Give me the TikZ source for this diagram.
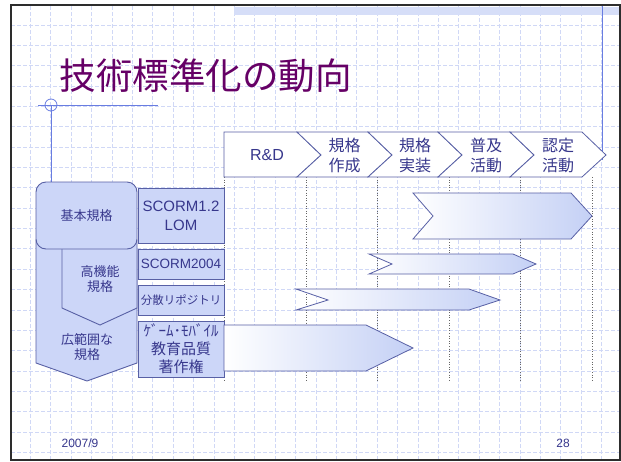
\documentclass[tikz,border=0pt]{standalone}
\usepackage{fontspec}
\setmainfont{Liberation Sans}
\newfontfamily\jp{Noto Sans CJK JP}
\definecolor{gridc}{RGB}{208,216,246}
\definecolor{framec}{RGB}{45,45,45}
\definecolor{titlec}{RGB}{102,0,102}
\definecolor{linec}{RGB}{105,125,225}
\definecolor{boxfill}{RGB}{204,214,248}
\definecolor{boxdraw}{RGB}{88,96,165}
\definecolor{txtc}{RGB}{55,55,140}
\definecolor{arrowend}{RGB}{196,208,245}
\definecolor{bandc}{RGB}{214,222,248}
\tikzset{
  gridline/.style={gridc, line width=0.8pt, dash pattern=on 4pt off 2pt},
  vdot/.style={gray!80!black, line width=0.6pt, dotted},
  hdrshape/.style={draw=boxdraw, fill=white, line width=0.8pt, line join=miter},
  hdrtext/.style={txtc, align=center, inner sep=0pt},
  lshape/.style={draw=boxdraw, fill=boxfill, line width=0.9pt},
  lbox/.style={draw=boxdraw, fill=boxfill, line width=0.9pt, inner sep=0pt, minimum width=86pt, text=txtc, align=center},
  ltext/.style={txtc, align=center, inner sep=0pt},
  garrow/.style={draw=boxdraw, line width=0.8pt, left color=white, right color=arrowend},
}
\begin{document}
\begin{tikzpicture}[x=1pt,y=-1pt]
\useasboundingbox (0,0) rectangle (621,461);
\fill[white] (0,0) rectangle (621,461);
% grid
\foreach \k in {1,...,29} \draw[gridline] ({10+20.4*\k},6) -- ({10+20.4*\k},459);
\foreach \k in {1,...,22} \draw[gridline] (11,{4.65+20.35*\k}) -- (619,{4.65+20.35*\k});
% top band
\fill[bandc] (234,7) rectangle (619,14.5);
% frame
\draw[framec, line width=2pt] (10.5,5) -- (620,5) -- (620,460) -- (10.5,460) -- cycle;
% title
\node[titlec, font=\jp\fontsize{36.5}{40}\selectfont, inner sep=0pt] (title) at (205.5,76) {技術標準化の動向};
% title rule with circle
\coordinate (ruleL) at (38,105);
\coordinate (ruleR) at (158,105);
\coordinate (ruleC) at (51,105);
\draw[linec, line width=0.8pt] (ruleL) -- (ruleR);
\draw[linec, line width=0.8pt] (ruleC) circle (6);
\draw[linec, line width=0.8pt] (ruleC) -- (51,182);
% right blue line
\draw[linec, line width=0.8pt] (602,6) -- (602,160);
% dotted verticals
\foreach \x in {224,306,377,449,520,592} \draw[vdot] (\x,177) -- (\x,380);
% header chevrons
\draw[hdrshape] (224,132) -- (297,132) -- (321,155) -- (297,177) -- (224,177) -- cycle;
\draw[hdrshape] (297,132) -- (368,132) -- (392,155) -- (368,177) -- (297,177) -- (321,155) -- cycle;
\draw[hdrshape] (368,132) -- (438,132) -- (462,155) -- (438,177) -- (368,177) -- (392,155) -- cycle;
\draw[hdrshape] (438,132) -- (510,132) -- (534,155) -- (510,177) -- (438,177) -- (462,155) -- cycle;
\draw[hdrshape] (510,132) -- (582,132) -- (606,155) -- (582,177) -- (510,177) -- (534,155) -- cycle;
\node[hdrtext, font=\fontsize{16}{20}\selectfont] (h0) at (267,155) {R\&D};
\node[hdrtext, font=\jp\fontsize{16}{20}\selectfont] (h1) at (344.5,155) {規格\\作成};
\node[hdrtext, font=\jp\fontsize{16}{20}\selectfont] (h2) at (415,155) {規格\\実装};
\node[hdrtext, font=\jp\fontsize{16}{20}\selectfont] (h3) at (486,155) {普及\\活動};
\node[hdrtext, font=\jp\fontsize{16}{20}\selectfont] (h4) at (558,155) {認定\\活動};
% left category shapes
\draw[lshape] (36,240) -- (36,363) -- (87,381) -- (137,363) -- (137,240) -- cycle;
\draw[lshape] (62,249) -- (62,308) -- (100,325) -- (137,308) -- (137,249);
\node[lshape, rounded corners=10pt, minimum width=101pt, minimum height=67pt, inner sep=0pt] (kihon) at (86.5,215.5) {};
\node[ltext, font=\jp\fontsize{13}{15}\selectfont] (kihonT) at (kihon) {基本規格};
\node[ltext, font=\jp\fontsize{13}{15}\selectfont] (koukinou) at (100,279.5) {高機能\\規格};
\node[ltext, font=\jp\fontsize{13}{15}\selectfont] (kouhani) at (87,347.5) {広範囲な\\規格};
% label boxes
\node[lbox, minimum height=55pt, font=\fontsize{15}{19}\selectfont] (b1) at (181,215.5) {SCORM1.2\\LOM};
\node[lbox, minimum height=30pt, font=\fontsize{13.5}{16}\selectfont] (b2) at (181,264) {SCORM2004};
\node[lbox, minimum height=30pt, font=\jp\fontsize{11.5}{14}\selectfont] (b3) at (181,300) {分散リポジトリ};
\node[lbox, minimum height=56pt, font=\jp\fontsize{15}{18}\selectfont] (b4) at (181,349) {ｹﾞｰﾑ･ﾓﾊﾞｲﾙ\\教育品質\\著作権};
% gantt arrows
\draw[garrow] (413,193) -- (571,193) -- (592,216) -- (571,239) -- (413,239) -- (433,216) -- cycle;
\draw[garrow] (369,254) -- (513,254) -- (536,264) -- (513,274) -- (369,274) -- (392,264) -- cycle;
\draw[garrow] (296,289) -- (469,289) -- (500,300) -- (469,310) -- (296,310) -- (328,300) -- cycle;
\draw[garrow] (224,325) -- (366,325) -- (413,348) -- (366,371) -- (224,371) -- cycle;
% footer
\node[txtc, font=\fontsize{12}{14}\selectfont, inner sep=0pt] (date) at (80,443) {2007/9};
\node[txtc, font=\fontsize{12}{14}\selectfont, inner sep=0pt] (page) at (563,443) {28};
\end{tikzpicture}
\end{document}
